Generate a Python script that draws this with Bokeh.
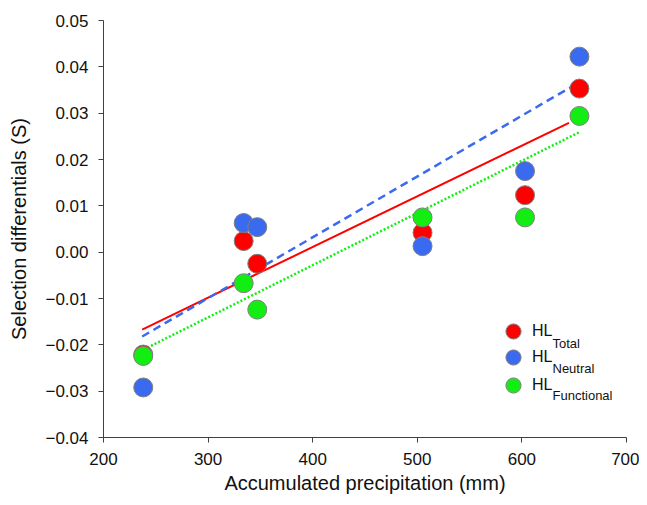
from bokeh.plotting import figure
from bokeh.models import FixedTicker, Legend, LegendItem, Label, Range1d
from bokeh.embed import file_html
from bokeh.resources import INLINE

# ---- data ----
precip = [238, 334, 347, 505, 603, 655]
hl_total = [-0.0221, 0.0024, -0.0025, 0.0042, 0.0123, 0.0353]
hl_neutral = [-0.0292, 0.0063, 0.0054, 0.0013, 0.0175, 0.0422]
hl_functional = [-0.0224, -0.0067, -0.0124, 0.0075, 0.0075, 0.0294]

fit_x_total = [237, 645]
fit_y_total = [-0.0167, 0.0279]
fit_x_neutral = [237, 649]
fit_y_neutral = [-0.0182, 0.0359]
fit_x_functional = [242, 655]
fit_y_functional = [-0.0206, 0.0259]

x_ticks = [200, 300, 400, 500, 600, 700]
x_tick_labels = ["200", "300", "400", "500", "600", "700"]
y_ticks = [-0.04, -0.03, -0.02, -0.01, 0.0, 0.01, 0.02, 0.03, 0.04, 0.05]
y_tick_labels = ["\u22120.04", "\u22120.03", "\u22120.02", "\u22120.01", "0.00",
                 "0.01", "0.02", "0.03", "0.04", "0.05"]

legend_main = ["HL", "HL", "HL"]
legend_sub = ["Total", "Neutral", "Functional"]

RED = "#FF0000"
BLUE = "#3A6AF0"
GREEN = "#12EE12"
EDGE = "#808080"
FONT = "Liberation Sans"

p = figure(width=639, height=497, output_backend="svg", toolbar_location=None,
           x_range=Range1d(200, 700), y_range=Range1d(-0.04, 0.05),
           min_border_left=103, min_border_right=13, min_border_top=20, min_border_bottom=60)
p.outline_line_color = None
p.xgrid.visible = False
p.ygrid.visible = False
p.background_fill_color = "white"
p.border_fill_color = "white"

# regression lines
p.line(fit_x_total, fit_y_total, line_color=RED, line_width=2)
p.line(fit_x_neutral, fit_y_neutral, line_color=BLUE, line_width=2.5, line_dash="8 5")
p.line(fit_x_functional, fit_y_functional, line_color=GREEN, line_width=2.5, line_dash="2 2")

# points
r_tot = p.scatter(precip, hl_total, size=19, fill_color=RED, line_color=EDGE, line_width=1)
r_neu = p.scatter(precip, hl_neutral, size=19, fill_color=BLUE, line_color=EDGE, line_width=1)
r_fun = p.scatter(precip, hl_functional, size=19, fill_color=GREEN, line_color=EDGE, line_width=1)

# axes
for ax in (p.xaxis[0], p.yaxis[0]):
    ax.axis_line_color = "#404040"
    ax.major_tick_line_color = "#404040"
    ax.major_tick_out = 5
    ax.major_tick_in = 0
    ax.minor_tick_line_color = None
    ax.major_label_text_font = FONT
    ax.major_label_text_font_size = "17px"
    ax.major_label_text_color = "#111111"
    ax.axis_label_text_font = FONT
    ax.axis_label_text_font_size = "20px"
    ax.axis_label_text_font_style = "normal"
    ax.axis_label_text_color = "#111111"
    ax.major_label_standoff = 10

p.xaxis.ticker = FixedTicker(ticks=x_ticks)
p.xaxis.major_label_overrides = dict(zip(x_ticks, x_tick_labels))
p.yaxis.ticker = FixedTicker(ticks=y_ticks)
p.yaxis.major_label_overrides = dict(zip(y_ticks, y_tick_labels))
p.xaxis.axis_label = "Accumulated precipitation (mm)"
p.yaxis.axis_label = "Selection differentials (S)"
p.xaxis.axis_label_standoff = 4
p.yaxis.axis_label_standoff = 12

# legend: one small legend per row so the row spacing matches the reference
renderers = [r_tot, r_neu, r_fun]
legend_vy = [87, 61, 33]
for rend, lab, vy in zip(renderers, legend_main, legend_vy):
    lg = Legend(items=[LegendItem(label=lab, renderers=[rend])],
                location=(391, vy), glyph_width=38, glyph_height=38, spacing=0,
                label_standoff=0, padding=0, margin=0,
                border_line_color=None, background_fill_alpha=0,
                label_text_font=FONT, label_text_font_size="16px",
                label_text_baseline="middle", label_text_color="#111111")
    p.add_layout(lg, "center")

sub_y = [94, 69, 42]
for txt, yy in zip(legend_sub, sub_y):
    p.add_layout(Label(x=449, y=yy, x_units="screen", y_units="screen", text=txt,
                       text_font=FONT, text_font_size="13px", text_baseline="alphabetic",
                       text_color="#111111"))

open("out.html", "w").write(file_html(p, INLINE))
